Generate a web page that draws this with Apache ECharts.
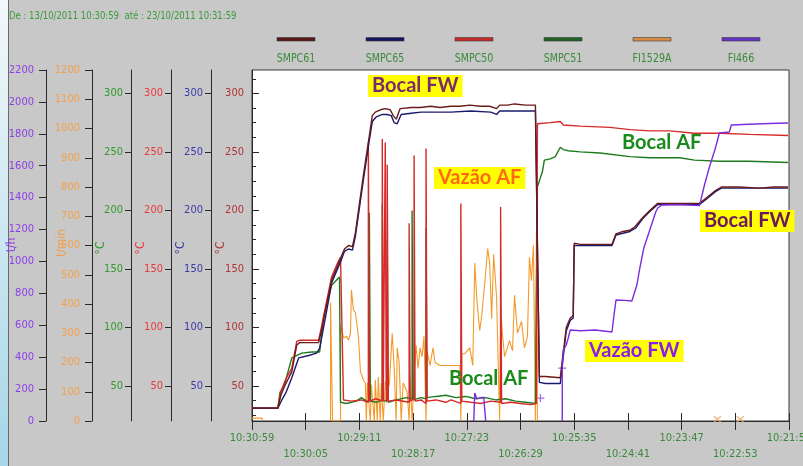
<!DOCTYPE html>
<html><head><meta charset="utf-8">
<script src="https://cdn.jsdelivr.net/npm/echarts@6/dist/echarts.min.js"></script>
<style>html,body{margin:0;padding:0;background:#c8c8c8;}#c{width:803px;height:466px;}</style>
</head><body><div id="c"></div>
<script>
// ---------- DATA ----------
const headerText = 'De : 13/10/2011 10:30:59  até : 23/10/2011 10:31:59';
const xTickLabels = ['10:30:59','10:30:05','10:29:11','10:28:17','10:27:23','10:26:29','10:25:35','10:24:41','10:23:47','10:22:53','10:21:59'];
const seriesNames = ['SMPC61','SMPC65','SMPC50','SMPC51','FI1529A','FI466'];
const axisNames = ['t/h','t/min','°C','°C','°C','°C'];
const tempTicks = [50,100,150,200,250,300];

// x = seconds from start, y = value on the series' own axis (null = gap)
const SMPC61 = [[0,31],[26,31],[29,42],[34,52],[40,62],[45,85],[48,87],[58,87],[67,87],[70,98],[74,115],[80,140],[89,159],[93,167],[97,170],[101,169],[104,181],[112,230],[118,264],[121,281],[124,284],[129,286],[134,287],[139,286],[142,281],[145,278],[149,287],[160,288],[169,288],[180,289],[189,288],[200,289],[209,289],[219,290],[230,289],[239,289],[246,287],[249,290],[257,290],[264,291],[275,290],[285,290],[287,289],[289,58],[295,58],[310,57],[312,72],[314,85],[316,100],[320,108],[323,110],[324,172],[330,171],[345,171],[362,171],[366,180],[373,182],[380,183],[385,186],[393,194],[400,200],[408,206],[420,206],[435,206],[450,206],[459,212],[466,217],[472,220],[490,220],[510,219],[525,220],[539,220]];
const SMPC65 = [[0,31],[26,31],[30,38],[34,44],[40,57],[47,74],[57,76],[65,78],[68,82],[72,100],[77,123],[80,138],[89,156],[93,165],[97,167],[101,166],[104,178],[112,226],[118,260],[121,276],[125,280],[131,282],[136,282],[140,281],[143,275],[146,274],[150,282],[160,283],[170,284],[189,284],[200,284],[220,285],[240,284],[246,282],[249,285],[264,285],[285,285],[287,284],[289,53],[295,52],[310,52],[312,68],[314,82],[316,97],[320,106],[323,108],[324,170],[345,170],[362,170],[366,179],[380,182],[386,185],[393,193],[400,199],[408,205],[450,205],[459,211],[466,216],[472,219],[539,219]];
const SMPC50 = [[0,31],[26,31],[29,45],[34,56],[40,65],[45,88],[48,89],[67,89],[70,101],[74,118],[80,143],[86,155],[89,160],[91,160],[92,38],[100,37],[110,38],[117,36],[117,258],[118,37],[125,39],[131,37],[131,261],[132,37],[134,38],[134,258],[135,36],[136,39],[136,239],[137,37],[145,38],[158,36],[158,189],[159,37],[163,39],[163,247],[164,37],[170,38],[175,35],[175,253],[176,37],[185,38],[195,36],[200,38],[210,35],[210,206],[211,37],[220,36],[230,35],[240,37],[250,36],[250,203],[251,35],[260,36],[270,35],[280,34],[286,35],[287,274],[300,275],[310,276],[313,273],[330,272],[360,271],[380,269],[400,268],[420,268],[445,266],[470,266],[500,265],[539,264]];
const SMPC51 = [[0,31],[26,31],[28,44],[33,52],[40,74],[50,78],[60,79],[68,79],[72,109],[80,136],[88,143],[89,143],[89,36],[95,35],[105,37],[110,40],[115,37],[118,37],[118,198],[119,37],[125,36],[131,38],[131,206],[132,37],[136,38],[136,175],[137,36],[145,38],[155,40],[161,39],[161,200],[162,38],[170,40],[175,39],[175,185],[176,40],[185,41],[195,42],[205,40],[215,41],[225,39],[235,40],[245,38],[255,39],[265,37],[275,36],[285,35],[287,220],[290,228],[292,233],[294,243],[300,244],[305,246],[310,254],[313,252],[318,251],[330,250],[350,249],[380,246],[400,245],[430,245],[445,243],[470,242],[500,242],[539,241]];
const FI1529A = [[0,10],[10,10],[11,0],[12,null],[79,0],[79,405],[81,0],[89,0],[89,330],[92,284],[95,290],[97,277],[99,300],[100,448],[102,380],[104,370],[107,290],[109,170],[112,140],[114,130],[115,0],[116,130],[119,0],[120,125],[122,120],[123,0],[124,140],[126,0],[127,150],[129,0],[130,130],[132,0],[134,135],[138,120],[141,300],[143,180],[145,0],[146,250],[148,200],[150,0],[152,130],[156,100],[158,0],[159,150],[161,0],[163,150],[165,260],[167,180],[169,250],[171,220],[173,290],[175,0],[176,240],[179,190],[182,250],[184,200],[186,200],[189,190],[209,190],[210,0],[211,230],[214,230],[219,250],[222,190],[224,540],[226,420],[227,380],[229,310],[231,360],[234,470],[237,590],[239,540],[241,350],[243,570],[246,420],[249,0],[250,390],[252,290],[254,220],[256,220],[259,275],[262,240],[264,430],[267,300],[269,320],[271,340],[274,250],[277,290],[279,560],[281,480],[283,600],[285,0],[286,650],[287,0]];
const FI466 = [[223,0],[224,175],[226,140],[233,150],[235,0],[236,null],[312,0],[312,332],[313,445],[316,476],[318,520],[320,570],[330,566],[345,570],[362,558],[364,664],[366,758],[375,756],[382,752],[387,852],[390,959],[394,1084],[400,1197],[404,1272],[406,1310],[408,1335],[412,1354],[430,1356],[450,1350],[455,1479],[460,1592],[466,1711],[470,1805],[480,1811],[482,1855],[500,1860],[520,1865],[539,1868]];
const FI1529A_marks = [[468,6],[491,6]];
const FI466_marks = [[290,144],[312,332]];

const annotations = [
  {text:'Bocal FW', x:368, y:75, color:'#7a2a6e', bg:'#ffff00'},
  {text:'Vazão AF', x:434, y:167, color:'#ff6a10', bg:'#ffff00'},
  {text:'Bocal AF', x:622, y:133, color:'#1a8a1a', bg:null},
  {text:'Bocal AF', x:449, y:369, color:'#1a8a1a', bg:null},
  {text:'Bocal FW', x:700, y:210, color:'#6b1660', bg:'#ffff00'},
  {text:'Vazão FW', x:585, y:340, color:'#8a1ee8', bg:'#ffff00'}
];

// ---------- STYLE ----------
const NARROW = "'Liberation Sans Narrow','DejaVu Sans Condensed','Liberation Sans',sans-serif";
const lineColors = ['#6b1a1a','#1a1a6e','#d62a2a','#1f7a1f','#f39a2a','#7b2ee0'];
const legendColors = ['#5a1818','#141460','#c42a2a','#226222','#d98c45','#6434c4'];
const axisColors = ['#8b3fe6','#f2a04a','#2f9a2f','#e83a3a','#3a3aa8','#b03434'];
const axisNamePos = [[12,245],[62,243],[101,248],[141,248],[181,248],[221,248]];
const xLabelColor = '#3b8a3b';

function sideAxis(o){
  const ax = {
    type:'value', position:'left', offset:o.offset, min:o.min, max:o.max,
    axisLine:{show:true, onZero:false, lineStyle:{color:'#2a2a2a', width:1}},
    axisTick:{show:true, inside:!!o.inside, length:o.tickLen, lineStyle:{color:'#2a2a2a'}},
    axisLabel:{show:true, color:o.color, fontSize:11, fontFamily:NARROW, margin:o.margin, formatter:(v)=>String(v)},
    splitLine:{show:false}
  };
  if (o.interval) ax.interval = o.interval;
  if (o.custom) { ax.axisTick.customValues = o.custom; ax.axisLabel.customValues = o.custom; }
  return ax;
}
const minorTicks = [];
for (let v = 25; v < 320; v += 12.5) { if (v % 50 !== 0) minorTicks.push(v); }

const yAxes = [
  sideAxis({offset:206, min:0, max:2200, interval:200, color:axisColors[0], margin:12, tickLen:7}),
  sideAxis({offset:160, min:0, max:1200, interval:100, color:axisColors[1], margin:12, tickLen:7}),
  sideAxis({offset:121, min:20, max:320, custom:tempTicks, color:axisColors[2], margin:8, tickLen:6}),
  sideAxis({offset:81, min:20, max:320, custom:tempTicks, color:axisColors[3], margin:8, tickLen:6}),
  sideAxis({offset:41, min:20, max:320, custom:tempTicks, color:axisColors[4], margin:8, tickLen:6}),
  sideAxis({offset:0, min:20, max:320, custom:tempTicks, color:axisColors[5], margin:8, tickLen:7, inside:true}),
  {type:'value', position:'left', offset:0, min:20, max:320, axisLine:{show:false},
   axisTick:{show:true, inside:true, length:4, customValues:minorTicks, lineStyle:{color:'#2a2a2a'}},
   axisLabel:{show:false}, splitLine:{show:false}}
];

const dataSets = [SMPC61, SMPC65, SMPC50, SMPC51, FI1529A, FI466];
const axisIdx = [5, 4, 3, 2, 1, 0];
const drawOrder = [4, 3, 2, 1, 0, 5];
const series = drawOrder.map(i => ({
  name: seriesNames[i], type:'line', yAxisIndex: axisIdx[i], data: dataSets[i],
  showSymbol:false, symbol:'none', animation:false, clip:true, connectNulls:false,
  lineStyle:{color: lineColors[i], width: (i===4 ? 1.1 : 1.4)}
}));
const X_PATH = 'path://M0,0L10,10M10,0L0,10';
const PLUS_PATH = 'path://M5,0L5,10M0,5L10,5';
series.push({type:'scatter', yAxisIndex:1, data:FI1529A_marks, symbol:X_PATH, symbolSize:[7,6],
  itemStyle:{color:'none', borderColor:'#e8a860', borderWidth:1.2}, animation:false});
series.push({type:'scatter', yAxisIndex:0, data:FI466_marks, symbol:PLUS_PATH, symbolSize:8,
  itemStyle:{color:'none', borderColor:'#8a40e8', borderWidth:1.2}, animation:false});

const graphics = [
  {type:'rect', shape:{x:0,y:0,width:8,height:466}, style:{fill:{type:'linear',x:0,y:0,x2:0,y2:1,colorStops:[{offset:0,color:'#f2f8fa'},{offset:1,color:'#a6d6e8'}]}}},
  {type:'line', shape:{x1:8.5,y1:0,x2:8.5,y2:466}, style:{stroke:'#6a6a6a', lineWidth:1}},
  {type:'text', x:9, y:16, scaleX:0.86, style:{text:headerText, fill:'#3a9a3a', font:'11px '+NARROW, textVerticalAlign:'middle'}}
];
axisNames.forEach((n, i) => {
  graphics.push({type:'text', x:axisNamePos[i][0], y:axisNamePos[i][1], rotation:Math.PI/2,
    style:{text:n, fill:axisColors[i], font:'12px '+NARROW, textAlign:'center', textVerticalAlign:'middle'}});
});
seriesNames.forEach((n, i) => {
  const cx = 296 + i * 89;
  graphics.push({type:'rect', shape:{x:cx-19, y:37.5, width:38, height:3.5}, style:{fill:legendColors[i], stroke:'#3a3a3a', lineWidth:0.6}});
  graphics.push({type:'text', x:cx, y:59, scaleX:0.88, style:{text:n, fill:'#3a8a3a', font:'12px '+NARROW, textAlign:'center', textVerticalAlign:'middle'}});
});
annotations.forEach(a => {
  const st = {text:a.text, fill:a.color, font:'bold 20px Lato, "Open Sans", sans-serif', textVerticalAlign:'top'};
  if (a.bg) { st.backgroundColor = a.bg; st.padding = [1,4,1,4]; }
  graphics.push({type:'text', x:a.x, y:a.y, z:100, style:st});
});

const chart = echarts.init(document.getElementById('c'), null, {renderer:'canvas'});
chart.setOption({
  backgroundColor:'#c8c8c8',
  animation:false,
  grid:{left:252, right:14, top:70, bottom:45, show:true, backgroundColor:'#ffffff', borderColor:'#3a3a3a', borderWidth:1, containLabel:false, outerBoundsMode:'none'},
  xAxis:[
    {type:'value', min:0, max:540, interval:54,
    axisLine:{show:true, onZero:false, lineStyle:{color:'#2a2a2a'}},
    axisTick:{show:true, length:9, lineStyle:{color:'#2a2a2a'}},
    splitLine:{show:false},
    axisLabel:{color:xLabelColor, fontSize:11, fontFamily:NARROW, margin:9, lineHeight:16,
      showMaxLabel:true, hideOverlap:false,
      formatter:(v)=>{ const k = Math.round(v/54); const s = xTickLabels[k] || ''; return (k % 2 === 1) ? '\n' + s : s; }}
    },
    {type:'value', position:'bottom', min:0, max:540, interval:54,
     axisLine:{show:false}, axisLabel:{show:false}, splitLine:{show:false},
     axisTick:{show:true, inside:true, length:8, lineStyle:{color:'#2a2a2a'}}}
  ],
  yAxis: yAxes,
  series: series,
  graphic: graphics
});
</script></body></html>
